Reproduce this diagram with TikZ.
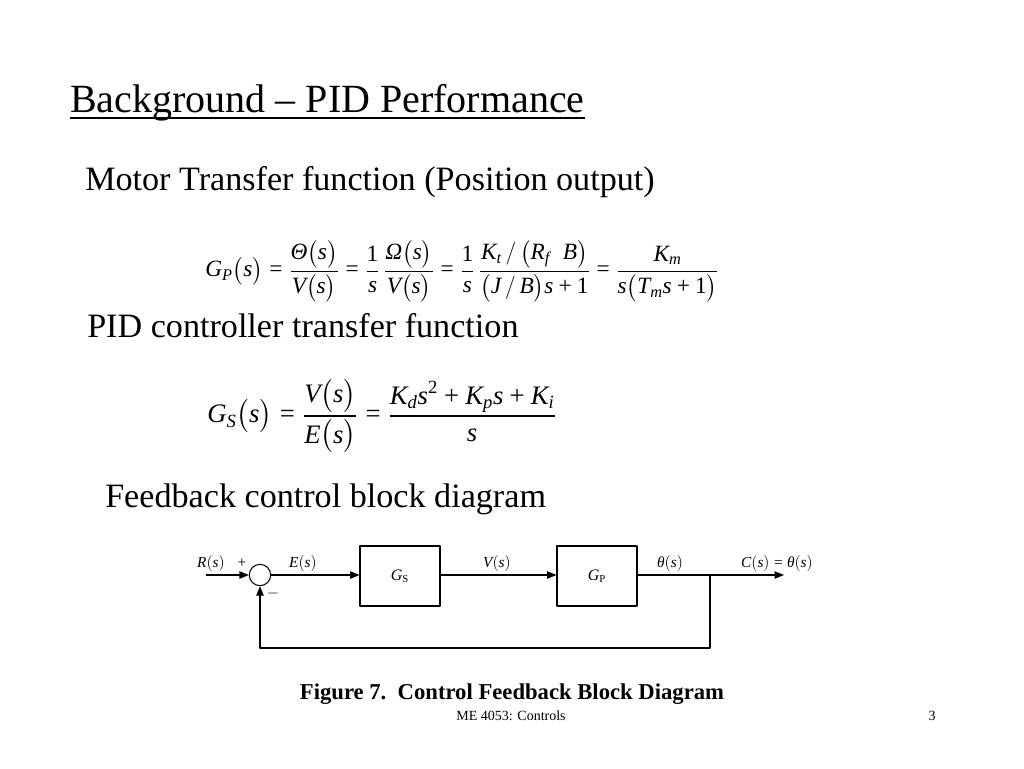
\documentclass[tikz,border=0pt]{standalone}
\usepackage{amsmath}
\usepackage{fontspec}
\setmainfont{Liberation Serif}
\usetikzlibrary{arrows.meta,positioning}

\newcommand{\gk}[1]{\text{\itshape #1}}
\newcommand{\eqs}{\mathrel{\text{=}}}
\newcommand{\pls}{\mathbin{\text{+}}}
\newcommand{\one}{\mathrm{1}}

\tikzset{
  block/.style={draw, line width=0.8pt, minimum width=60pt, minimum height=45pt, inner sep=0pt, font=\fontsize{12}{14}\selectfont},
  sumnode/.style={draw, circle, line width=0.8pt, minimum size=16pt, inner sep=0pt},
  sig/.style={font=\fontsize{11.5}{14}\selectfont, inner sep=1pt},
  wire/.style={line width=0.8pt, -{Stealth[length=7pt, width=5.5pt, inset=0pt]}},
}

\begin{document}
\begin{tikzpicture}[x=0.75pt, y=0.75pt, line join=round]
	\useasboundingbox (0,0) rectangle (1024,-768);
	\fill[white] (0,0) rectangle (1024,-768);

	% headings
	\node[anchor=base west, inner sep=0pt, font=\fontsize{30}{36}\selectfont] (title) at (70,-112) {Background -- PID Performance};
	\draw[line width=0.8pt] ([yshift=-4.5pt]title.base west) -- ([yshift=-4.5pt]title.base east);
	\node[anchor=base west, inner sep=0pt, font=\fontsize{25.6}{30}\selectfont] (motor) at (85,-190) {Motor Transfer function (Position output)};
	\node[anchor=base west, inner sep=0pt, font=\fontsize{25.6}{30}\selectfont] (pid) at (87,-337) {PID controller transfer function};
	\node[anchor=base west, inner sep=0pt, font=\fontsize{25.6}{30}\selectfont] (fbk) at (105,-507) {Feedback control block diagram};

	% equations
	\node[anchor=west, inner sep=0pt, font=\fontsize{17.5}{21}\selectfont] (eqP) at (205,-271)
		{$\mathit{G_P\bigl(s\bigr)\eqs \dfrac{\gk{Θ}\bigl(s\bigr)}{V\bigl(s\bigr)} \eqs \dfrac{\one}{s}\,\dfrac{\gk{Ω}\bigl(s\bigr)}{V\bigl(s\bigr)} \eqs \dfrac{\one}{s}\,\dfrac{K_t\,/\,\bigl(R_f\;\; B\bigr)}{\bigl(J\,/\,B\bigr)s\pls\one} \eqs \dfrac{K_m}{s\bigl(T_m s\pls\one\bigr)}}$};
	\node[anchor=west, inner sep=0pt, font=\fontsize{20}{24}\selectfont] (eqS) at (207,-416)
		{$\mathit{G_S\bigl(s\bigr)\eqs \dfrac{V\bigl(s\bigr)}{E\bigl(s\bigr)} \eqs \dfrac{K_d s^{\mathrm{2}}\pls K_p s\pls K_i}{s}}$};

	% block diagram
	\path
		(206,-575) coordinate (in)
		(784,-575) coordinate (out)
		(710,-575) coordinate (tap)
		(710,-648) coordinate (fb1)
		(260,-648) coordinate (fb2)
	;
	\node[sumnode] (sum) at (260,-575) {};
	\node[block] (gs) at (400,-576) {$\mathit{G}_{\mathrm{S}}$};
	\node[block] (gp) at (597,-576) {$\mathit{G}_{\mathrm{P}}$};

	\draw[wire] (in) -- (sum.west);
	\draw[wire] (sum.east) -- (gs.west |- sum.east);
	\draw[wire] (gs.east |- sum.east) -- (gp.west |- sum.east);
	\draw[wire] (gp.east |- sum.east) -- (out);
	\draw[wire] (tap) -- (fb1) -- (fb2) -- (sum.south);

	\foreach \p/\t in {211/R(s), 303/E(s), 497/V(s), 670/\gk{θ}(s), 777/C(s) \eqs \gk{θ}(s)}{
		\node[sig] at (\p,-563) {$\mathit{\t}$};
	};
	\node[sig] (plus) at (242,-563) {$\pls$};
	\node[sig] (minus) at (273,-593) {$-$};

	% caption and footer
	\node[anchor=base, inner sep=0pt, font=\bfseries\fontsize{17}{20}\selectfont] (cap) at (512,-699) {Figure 7.\ \ Control Feedback Block Diagram};
	\node[anchor=base, inner sep=0pt, font=\fontsize{10.5}{12}\selectfont] (foot) at (511,-720) {ME 4053: Controls};
	\node[anchor=base, inner sep=0pt, font=\fontsize{10.5}{12}\selectfont] (page) at (932,-720) {3};
\end{tikzpicture}
\end{document}
